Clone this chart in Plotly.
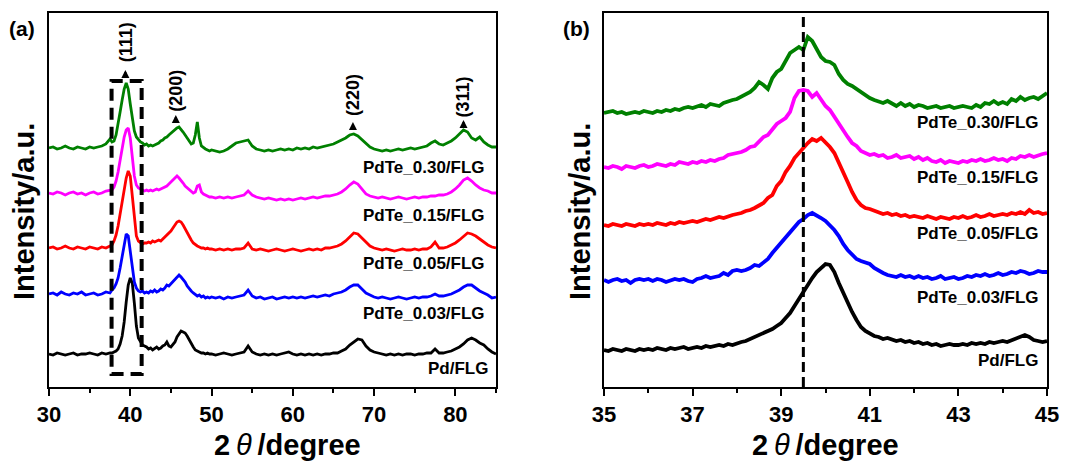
import plotly.graph_objects as go

# ---------------- data: panel (a) ----------------
XA = [30.0 + 0.5 * i for i in range(16)] + [37.75 + 0.25 * i for i in range(50)] + [50.5 + 0.5 * i for i in range(70)]

A_PD = [33,32,34,33,32,33,34,32,33,33,34,33,32,34,33,34,
        34,35,36,38,43,51,65,85,102,109,104,84,61,49,45,42,41,40,38,39,37,39,40,38,39,41,42,45,41,40,42,45,50,53,56,55,54,51,47,43,40,37,36,35,34,34,33,34,33,33,
        32,33,34,33,32,33,34,35,41,35, 33,32,33,32,33,32,33,34,35,33, 32,33,32,33,32,33,32,33,33,34,
        34,36,38,42,45,48,47,41,37,35, 34,33,32,33,32,33,32,33,33,32, 33,33,34,34,38,34,34,35,36,38,
        40,43,47,49,47,44,42,38,35,33]
A_003 = [93,94,92,95,93,92,94,93,95,92,93,94,92,93,95,94,
         97,99,103,109,119,131,145,153,151,137,119,105,99,96,95,96,94,95,94,96,95,97,95,96,98,97,99,102,101,103,106,108,110,112,110,108,105,101,98,96,94,92,91,92,90,91,89,90,89,90,
         89,90,88,90,89,90,91,92,97,91, 89,90,88,89,90,88,89,90,89,90, 89,90,89,90,91,90,91,92,91,93,
         94,95,97,100,102,102,98,94,92,90, 89,90,89,88,89,90,89,88,89,90, 89,90,90,91,93,91,91,92,93,95,
         97,100,102,102,99,96,94,92,89,90]
A_005 = [139,140,138,139,141,139,138,140,139,138,140,139,138,140,139,141,
         142,146,152,161,173,187,199,209,216,211,191,167,151,146,144,143,144,144,145,144,146,145,146,147,146,148,149,151,153,156,159,162,165,166,165,162,158,154,150,147,144,142,141,140,139,139,138,139,138,138,
         137,138,137,138,137,138,138,139,144,138, 137,138,137,136,137,138,137,136,137,138, 137,136,137,138,137,138,137,139,139,140,
         141,143,146,150,154,153,149,144,141,139, 138,137,138,137,136,137,138,137,137,138, 137,138,138,140,145,139,139,140,142,144,
         147,151,154,153,151,148,145,142,140,139]
A_015 = [194,193,195,194,192,194,195,193,194,192,194,195,193,194,196,197,
         197,200,206,215,227,239,250,257,259,249,229,211,202,199,198,197,196,197,196,197,196,197,198,197,198,199,200,201,203,205,208,210,211,209,207,204,201,199,197,195,194,195,201,202,195,193,192,191,190,190,
         189,190,189,190,189,190,191,192,196,192, 190,189,188,189,188,187,188,187,188,187, 188,189,188,189,190,189,190,191,191,192,
         193,195,198,202,205,203,198,193,191,190, 189,190,189,188,189,190,189,188,189,190, 189,190,190,191,191,192,192,193,195,198,
         202,207,209,206,202,199,197,196,194,194]
A_030 = [239,240,238,239,241,239,238,240,239,238,240,239,240,241,243,248,
         245,246,252,262,275,287,298,304,298,283,268,256,250,247,245,244,242,243,241,242,241,242,243,244,246,247,249,250,252,254,256,257,259,260,258,255,252,249,246,243,244,252,265,249,241,239,238,237,236,237,
         236,235,236,238,241,244,245,246,247,241, 238,237,236,237,236,237,238,237,238,237, 239,238,239,238,240,239,240,241,242,243,
         245,247,249,252,253,251,247,243,240,238, 237,236,237,236,237,238,237,238,239,238, 239,240,241,244,246,243,242,244,246,249,
         253,257,255,249,247,250,245,242,240,240]

# ---------------- data: panel (b) ----------------
XB = [round(35 + 0.1 * i, 1) for i in range(101)]

B_PD = [37,36,38,37,36,38,37,36,38,37,38,
        37,39,38,37,39,38,39,40,38,39,
        40,39,41,40,41,42,41,43,42,44,
        45,46,48,49,51,53,55,58,61,64,
        69,74,81,88,95,103,109,115,119,123,
        122,115,104,94,84,75,67,60,56,53,
        51,50,48,49,47,46,47,45,46,44,
        45,43,44,42,43,41,42,43,42,42,
        43,42,44,43,44,43,45,44,45,46,
        45,47,48,50,52,50,47,46,45,46]
B_003 = [107,105,107,108,106,107,104,107,108,107,108,
         106,108,107,105,107,108,107,108,106,105,
         108,109,111,109,110,111,114,112,116,117,
         116,117,119,122,121,125,128,134,139,145,
         149,154,159,165,168,172,174,172,169,166,
         162,157,151,143,137,132,128,126,124,123,
         119,116,114,112,111,110,112,110,111,109,
         111,109,110,108,109,111,108,109,110,108,
         109,111,110,112,111,113,111,112,114,112,
         113,115,114,116,115,113,114,116,115,115]
B_005 = [162,161,163,162,161,163,162,161,163,162,163,
         162,164,163,162,164,163,165,164,165,166,
         165,167,168,167,169,170,169,171,172,173,
         174,176,177,179,182,184,189,192,201,206,
         215,221,229,234,240,244,248,246,249,245,
         240,234,225,215,205,195,187,182,179,178,
         176,175,173,174,172,173,171,172,170,171,
         170,169,171,169,168,170,169,168,170,169,
         171,169,170,172,170,171,173,171,172,173,
         172,174,173,175,173,177,174,175,173,174]
B_015 = [220,219,221,220,218,221,220,219,221,222,220,
         221,223,222,221,223,222,225,224,223,225,
         224,226,225,227,226,228,229,232,233,234,
         235,237,240,241,246,250,252,258,263,266,
         269,275,289,296,297,296,290,294,287,281,
         277,270,263,257,250,244,241,236,234,232,
         233,231,232,229,230,232,229,230,231,228,
         230,227,229,226,225,227,224,226,225,224,
         226,225,227,226,228,226,227,229,227,228,
         226,229,228,231,230,232,230,232,233,234]
B_030 = [274,275,276,274,275,273,274,275,274,276,275,
         274,276,275,277,276,278,277,279,280,279,
         281,282,280,283,282,281,284,286,287,288,
         290,293,295,299,305,302,298,309,315,318,
         327,334,337,340,337,350,346,337,330,326,
         325,322,313,307,303,301,298,295,291,289,
         287,285,284,286,283,281,284,281,283,280,
         282,281,279,280,281,279,280,281,279,280,
         281,280,279,282,280,284,283,286,283,285,
         283,288,286,290,287,289,290,288,291,294]

NAMES = ["Pd/FLG", "PdTe_0.03/FLG", "PdTe_0.05/FLG", "PdTe_0.15/FLG", "PdTe_0.30/FLG"]
COLORS = ["#000000", "#0000ff", "#ff0000", "#ff00ff", "#008000"]
SERIES_A = [A_PD, A_003, A_005, A_015, A_030]
SERIES_B = [B_PD, B_003, B_005, B_015, B_030]

LABEL_Y_A = [19, 74, 124, 172, 220]
LABEL_X_A = [84.27, 83.9, 83.9, 83.9, 83.9]
LABEL_Y_B = [27, 90, 154, 210, 265]
LABEL_X_B = [44.84, 44.86, 44.86, 44.86, 44.86]

PEAKS = ["(111)", "(200)", "(220)", "(311)"]
PEAK_X = [39.5, 45.6, 67.4, 81.0]
PEAK_TEXT_Y = [345, 296, 292, 290]
PEAK_ARROW_X = [39.4, 45.6, 67.4, 81.0]
PEAK_ARROW_Y = [317, 272, 265, 267]

FONT = "Liberation Sans, Arial, sans-serif"

fig = go.Figure()
for s, c, n in zip(SERIES_A, COLORS, NAMES):
    fig.add_trace(go.Scatter(x=XA, y=s, mode="lines", line=dict(color=c, width=2.8),
                             name=n, showlegend=False, xaxis="x", yaxis="y"))
for s, c, n in zip(SERIES_B, COLORS, NAMES):
    fig.add_trace(go.Scatter(x=XB, y=s, mode="lines", line=dict(color=c, width=3.8),
                             name=n, showlegend=False, xaxis="x2", yaxis="y2"))

W, H = 1084, 463
ax_common = dict(showline=True, linecolor="black", linewidth=1.5, mirror=True,
                 showgrid=False, zeroline=False, automargin=False)
xcommon = dict(ax_common, ticks="outside", ticklen=7, tickwidth=1.5, tickcolor="black",
               tickfont=dict(family=FONT, size=22, color="black", weight="bold"))

fig.update_layout(
    width=W, height=H, margin=dict(l=0, r=0, t=0, b=0, pad=0, autoexpand=False),
    paper_bgcolor="white", plot_bgcolor="white",
    xaxis=dict(xcommon, domain=[49 / W, 496 / W], range=[30, 85], tickvals=[30, 40, 50, 60, 70, 80],
               minor=dict(ticks="outside", ticklen=4, tickwidth=1.5, tickcolor="black", dtick=5, tick0=0)),
    yaxis=dict(ax_common, domain=[1 - 387 / H, 1 - 13 / H], range=[0, 374], showticklabels=False, ticks=""),
    xaxis2=dict(xcommon, domain=[604 / W, 1047 / W], range=[35, 45], tickvals=[35, 37, 39, 41, 43, 45],
                minor=dict(ticks="outside", ticklen=4, tickwidth=1.5, tickcolor="black", dtick=1, tick0=0),
                anchor="y2"),
    yaxis2=dict(ax_common, domain=[1 - 387 / H, 1 - 13 / H], range=[0, 374], showticklabels=False, ticks="",
                anchor="x2"),
)

ann = []
# series labels
for n, xl, yl in zip(NAMES, LABEL_X_A, LABEL_Y_A):
    ann.append(dict(x=xl, y=yl, xref="x", yref="y", text=n, showarrow=False, xanchor="right",
                    yanchor="middle", font=dict(family=FONT, size=17, color="black", weight="bold")))
for n, xl, yl in zip(NAMES, LABEL_X_B, LABEL_Y_B):
    ann.append(dict(x=xl, y=yl, xref="x2", yref="y2", text=n, showarrow=False, xanchor="right",
                    yanchor="middle", font=dict(family=FONT, size=17, color="black", weight="bold")))
# peak labels and arrows
for p, px_, py_, ax_, ay_ in zip(PEAKS, PEAK_X, PEAK_TEXT_Y, PEAK_ARROW_X, PEAK_ARROW_Y):
    ann.append(dict(x=px_, y=py_, xref="x", yref="y", text=p, textangle=-90, showarrow=False,
                    xanchor="center", yanchor="middle",
                    font=dict(family=FONT, size=18, color="black", weight="bold")))
    ann.append(dict(x=ax_, y=ay_, xref="x", yref="y", text="", showarrow=True, arrowhead=2,
                    arrowsize=0.8, arrowwidth=2, arrowcolor="black", ax=0, ay=9))
# panel letters
ann.append(dict(x=22 / W, y=1 - 28 / H, xref="paper", yref="paper", text="(a)", showarrow=False,
                xanchor="center", yanchor="middle",
                font=dict(family=FONT, size=21, color="black", weight="bold")))
ann.append(dict(x=576 / W, y=1 - 28 / H, xref="paper", yref="paper", text="(b)", showarrow=False,
                xanchor="center", yanchor="middle",
                font=dict(family=FONT, size=21, color="black", weight="bold")))
# axis titles
for xc in (24, 580):
    ann.append(dict(x=xc / W, y=1 - 212 / H, xref="paper", yref="paper", text="Intensity/a.u.",
                    textangle=-90, showarrow=False, xanchor="center", yanchor="middle",
                    font=dict(family=FONT, size=29, color="black", weight="bold")))
XTITLE = "2<span style='font-weight:normal'><i>\u2009θ\u2009</i></span>/degree"
for xc in (287, 825.5):
    ann.append(dict(x=xc / W, y=1 - 445 / H, xref="paper", yref="paper", text=XTITLE,
                    showarrow=False, xanchor="center", yanchor="middle",
                    font=dict(family=FONT, size=29, color="black", weight="bold")))
fig.update_layout(annotations=ann)

# dashed box around (111) in panel (a), dashed guide in panel (b)
fig.add_shape(type="rect", xref="x", yref="y", x0=37.7, x1=41.4, y0=13, y1=306,
              line=dict(color="black", width=4, dash="12px,7px"), layer="above")
fig.add_shape(type="line", xref="x2", yref="y2", x0=39.5, x1=39.5, y0=0, y1=374,
              line=dict(color="black", width=3, dash="10px,5px"), layer="above")

fig.write_html("out.html")
